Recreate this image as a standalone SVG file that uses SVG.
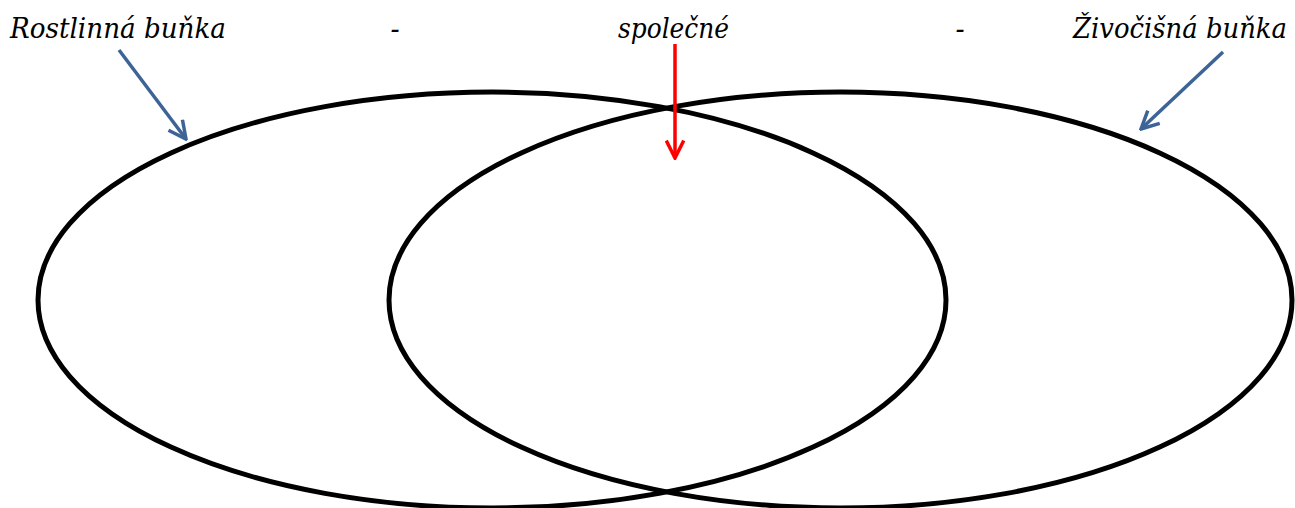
<svg xmlns="http://www.w3.org/2000/svg" width="1295" height="508" viewBox="0 0 1295 508">
<style>
.t{font-family:"DejaVu Serif","Liberation Serif",serif;font-style:italic;font-size:27px;fill:#000}
.ell{fill:none;stroke:#000;stroke-width:5}
.blue{stroke:#3D6496;stroke-width:3.5;fill:none}
.red{stroke:#FF0000;stroke-width:3.5;fill:none}
</style>
<defs>
<marker id="ab" viewBox="0 0 12 12" refX="11" refY="6" markerWidth="6" markerHeight="6" orient="auto" markerUnits="strokeWidth"><path d="M1,1 L11,6 L1,11" fill="none" stroke="#3D6496" stroke-width="2"/></marker>
<marker id="ar" viewBox="0 0 12 12" refX="11" refY="6" markerWidth="6" markerHeight="6" orient="auto" markerUnits="strokeWidth"><path d="M1,1 L11,6 L1,11" fill="none" stroke="#FF0000" stroke-width="2"/></marker>
</defs>
<rect width="1295" height="508" fill="#fff"/>
<g id="plant"><ellipse class="ell" cx="492" cy="300" rx="454" ry="208"/></g>
<g id="animal"><ellipse class="ell" cx="840.5" cy="300" rx="451.5" ry="208"/></g>
<g id="labels">
<text class="t" x="10" y="38" textLength="216" lengthAdjust="spacingAndGlyphs">Rostlinná buňka</text>
<text class="t" x="395" y="38" text-anchor="middle">-</text>
<text class="t" x="618" y="38" textLength="111" lengthAdjust="spacingAndGlyphs">společné</text>
<text class="t" x="960" y="38" text-anchor="middle">-</text>
<text class="t" x="1073" y="38" textLength="214" lengthAdjust="spacingAndGlyphs">Živočišná buňka</text>
</g>
<g id="connectors">
<line class="blue" x1="119" y1="50" x2="186" y2="139" marker-end="url(#ab)"/>
<line class="blue" x1="1223" y1="52" x2="1141" y2="129" marker-end="url(#ab)"/>
<line class="red" x1="675" y1="44" x2="675" y2="158" marker-end="url(#ar)"/>
</g>
</svg>
